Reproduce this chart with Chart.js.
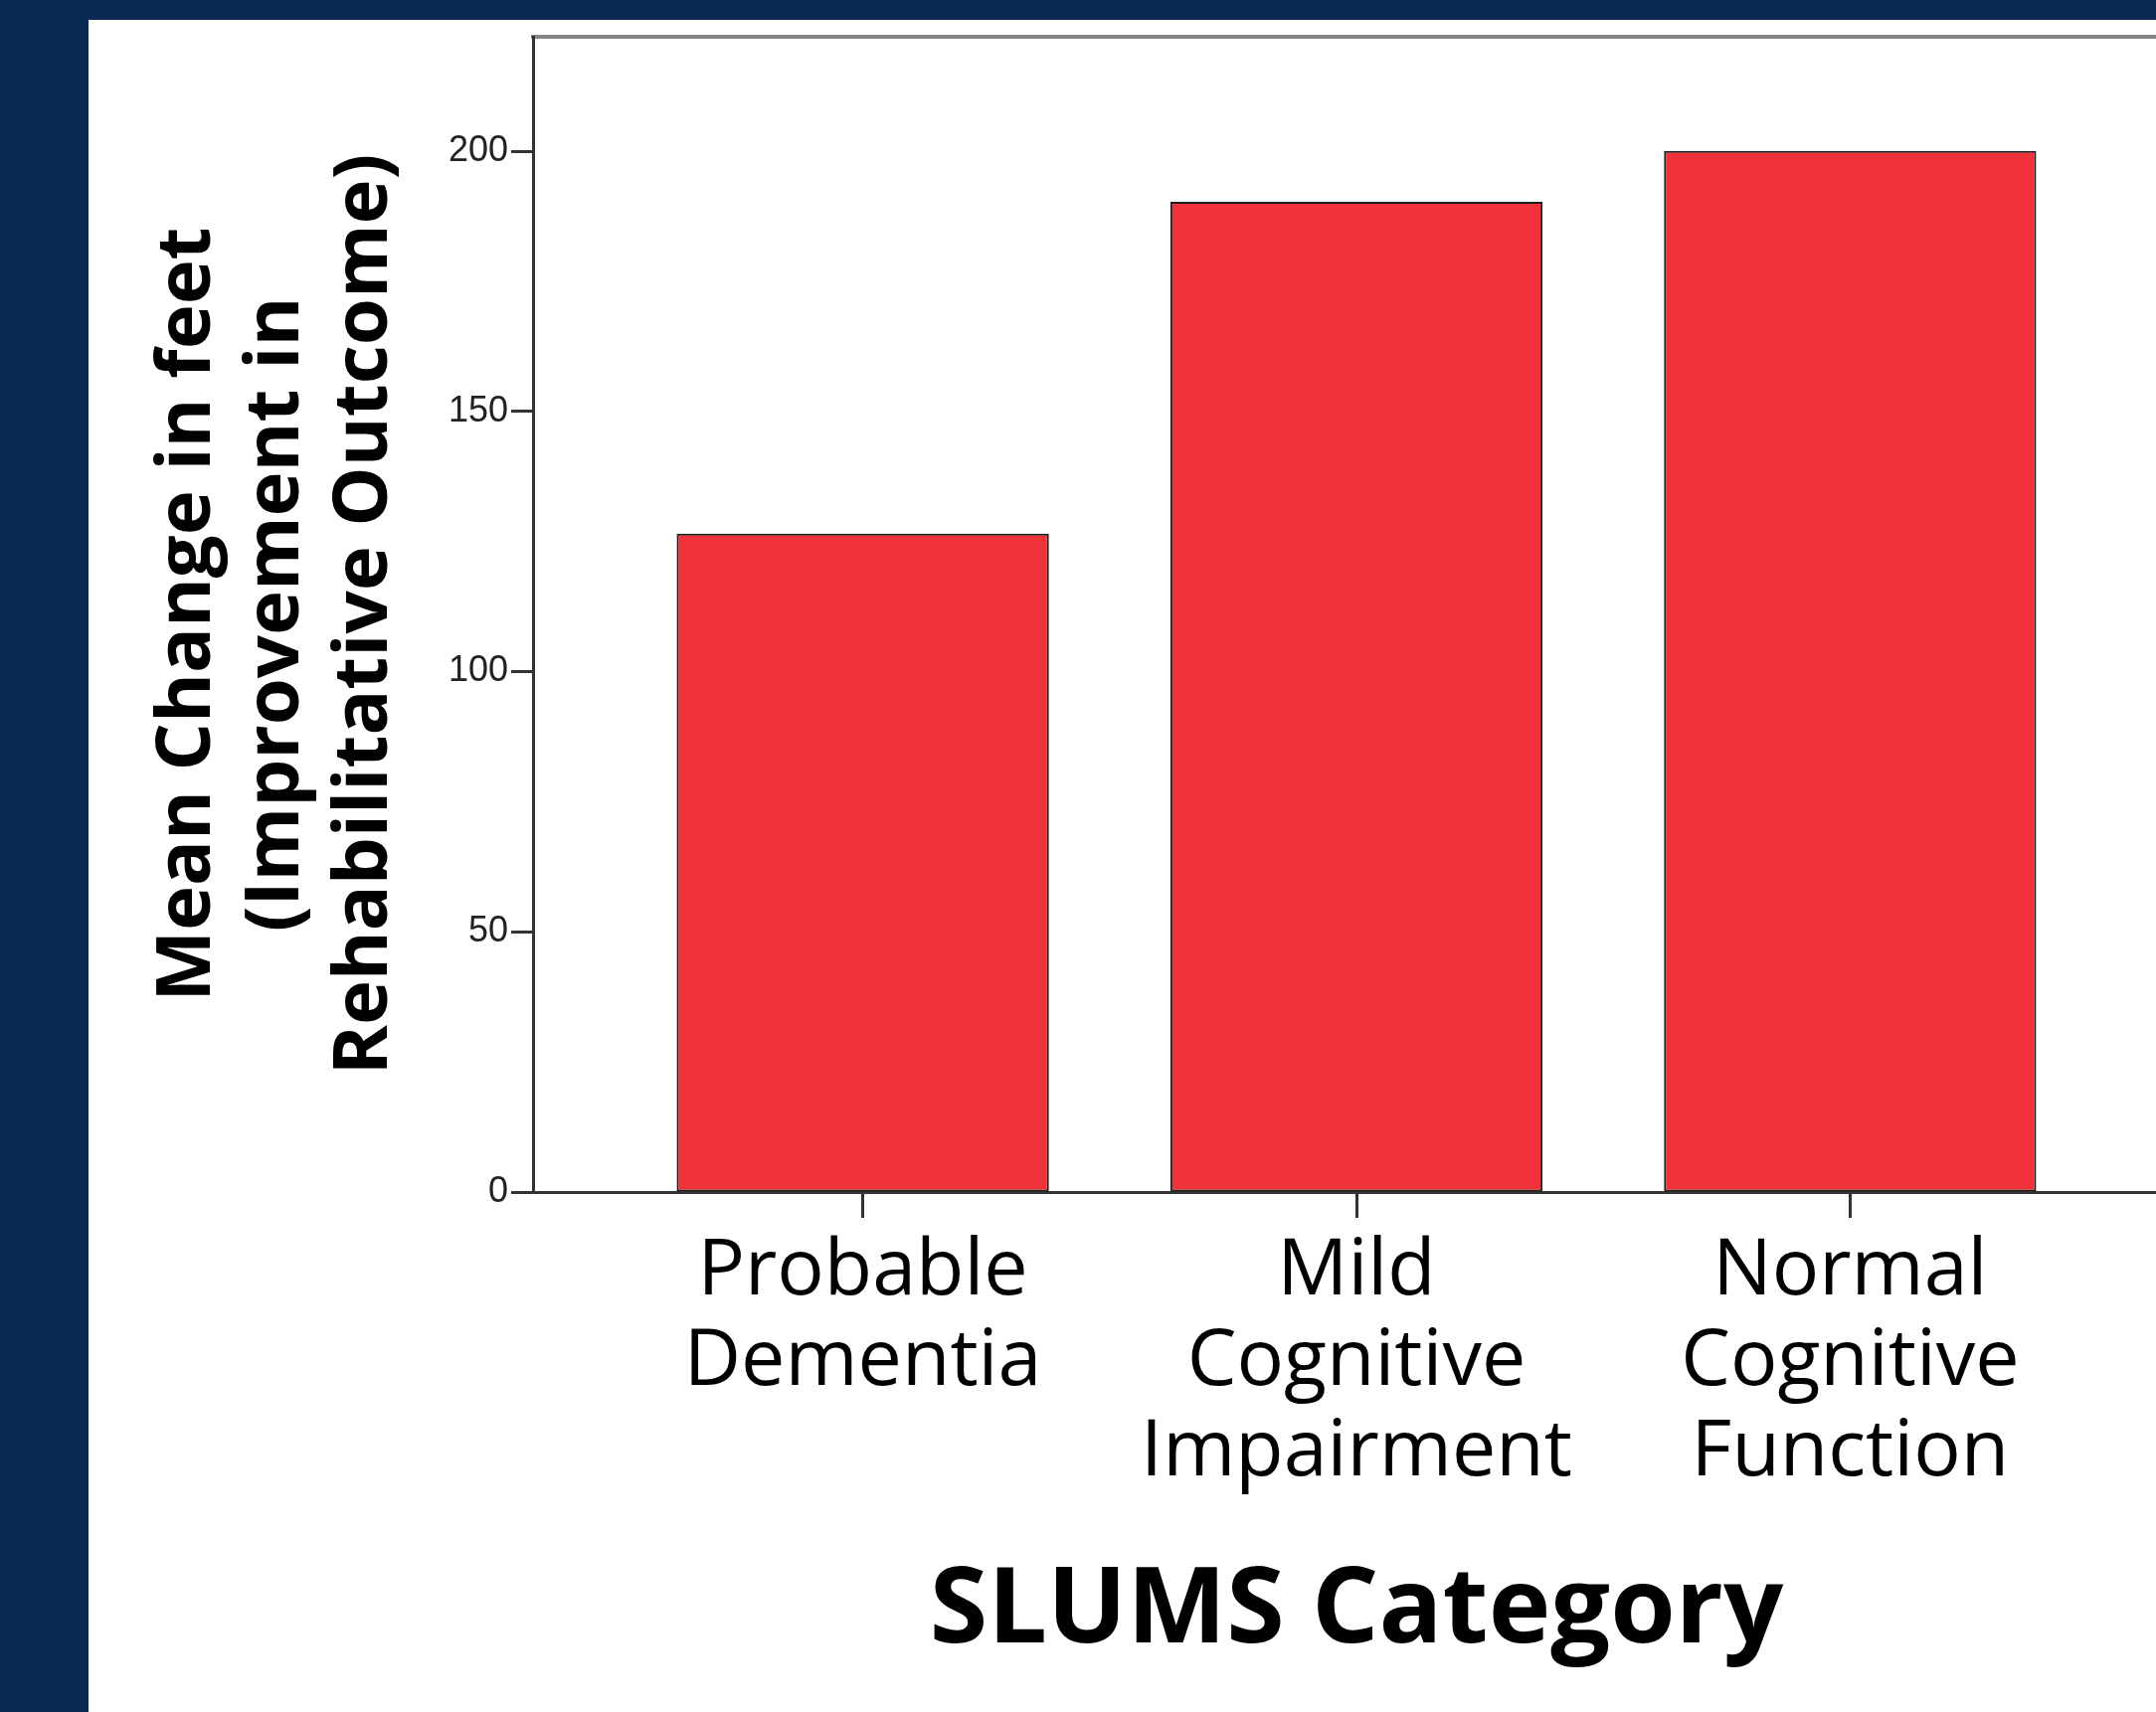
<!DOCTYPE html>
<html>
<head>
<meta charset="utf-8">
<script src="https://cdn.jsdelivr.net/npm/chart.js@4.4.1/dist/chart.umd.min.js"></script>
<style>
  html, body { margin: 0; padding: 0; width: 2168px; height: 1722px; overflow: hidden; background: #0a2952; }
  .panel { position: absolute; left: 89px; top: 20px; right: 0; bottom: 0; background: #fff; overflow: hidden; }
  .box { position: absolute; left: 0; top: 0; width: 2150px; height: 1702px; }
</style>
</head>
<body>
<div class="panel">
  <div class="box"><canvas id="slumsChart"></canvas></div>
</div>
<script>
// categories (multi-line labels) and mean change values
var categories = [["Probable", "Dementia"], ["Mild", "Cognitive", "Impairment"], ["Normal", "Cognitive", "Function"]];
var meanChange = [126.5, 190.3, 200.1];
var yTicks = [0, 50, 100, 150, 200];

var points = meanChange.map(function (v, i) { return { x: i, y: v }; });

var ctx = document.getElementById('slumsChart').getContext('2d');
var chart = new Chart(ctx, {
    type: 'bar',
    data: {
        datasets: [{
            label: "Mean Change in feet",
            data: points,
            backgroundColor: "#ef323a",
            borderColor: "#1e1e1e",
            borderWidth: 2,
            borderSkipped: false,
            categoryPercentage: 1,
            barPercentage: 0.754
        }]
    },
    options: {
        responsive: true,
        maintainAspectRatio: false,
        animation: false,
        layout: { padding: { top: 17, right: 47, bottom: 0, left: 0 } },
        plugins: { legend: { display: false }, tooltip: { enabled: false } },
        scales: {
            x: {
                type: 'linear',
                position: 'bottom',
                offset: false,
                min: -0.668,
                max: 2.668,
                afterBuildTicks: function (scale) {
                    scale.ticks = categories.map(function (c, i) { return { value: i }; });
                },
                afterFit: function (scale) { scale.height = 523; },
                ticks: {
                    autoSkip: false,
                    maxRotation: 0,
                    padding: 9,
                    color: '#000',
                    font: { family: 'Open Sans', size: 79, lineHeight: 1.15 },
                    callback: function (v) { return categories[v]; }
                },
                grid: { offset: false, drawOnChartArea: false, tickLength: 26, tickWidth: 3, tickColor: '#333' },
                border: { color: '#333', width: 3 },
                title: {
                    display: true,
                    text: 'SLUMS Category',
                    color: '#000',
                    font: { family: 'Open Sans', size: 106, weight: 'bold', lineHeight: 1.2 },
                    padding: { top: 0, bottom: 37 }
                }
            },
            xTop: {
                type: 'linear',
                position: 'top',
                afterFit: function (scale) { scale.height = 0; },
                ticks: { display: false },
                grid: { display: false, drawTicks: false },
                border: { color: '#858585', width: 4 }
            },
            y: {
                min: 0,
                max: 222,
                afterBuildTicks: function (scale) {
                    scale.ticks = yTicks.map(function (v) { return { value: v }; });
                },
                afterFit: function (scale) {
                    scale.width = 447;
                    scale.paddingTop = 0;
                    scale.paddingBottom = 0;
                },
                ticks: {
                    padding: 3,
                    color: '#222',
                    font: { family: 'Liberation Sans', size: 36 }
                },
                grid: { drawOnChartArea: false, tickLength: 22, tickWidth: 3, tickColor: '#333' },
                border: { color: '#333', width: 3 },
                title: {
                    display: true,
                    text: ['Mean Change in feet', '(Improvement in', 'Rehabilitative Outcome)'],
                    color: '#000',
                    font: { family: 'Open Sans', size: 76, weight: 'bold', lineHeight: 1.17 },
                    padding: { top: 56, bottom: 0 }
                }
            }
        }
    }
});
</script>
</body>
</html>
